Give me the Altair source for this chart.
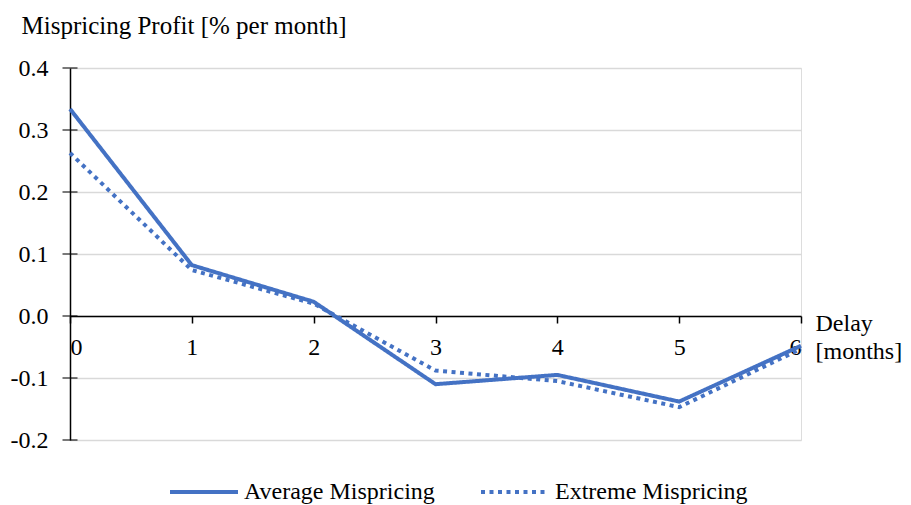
import altair as alt
import pandas as pd

delay = [0, 1, 2, 3, 4, 5, 6]
average = [0.334, 0.082, 0.023, -0.110, -0.095, -0.138, -0.048]
extreme = [0.263, 0.074, 0.020, -0.088, -0.105, -0.147, -0.053]
series_names = ["Average Mispricing", "Extreme Mispricing"]
y_ticks = [-0.2, -0.1, 0.0, 0.1, 0.2, 0.3, 0.4]

df = pd.DataFrame({
    "Delay": delay * 2,
    "Profit": average + extreme,
    "Series": [series_names[0]] * len(delay) + [series_names[1]] * len(delay),
})
ticks_df = pd.DataFrame({"v": y_ticks})

FONT = "Liberation Serif"
BLUE = "#4472C4"
FS = 24

xscale = alt.Scale(domain=[0, 6], nice=False, zero=False)
yscale = alt.Scale(domain=[-0.2, 0.4], nice=False, zero=False)

x_enc = alt.X(
    "Delay:Q", scale=xscale,
    axis=alt.Axis(
        values=delay, format="d", offset=-124, grid=False,
        domainColor="black", domainWidth=1.5,
        tickColor="black", tickSize=7, tickWidth=1.5,
        labelPadding=12, labelFont=FONT, labelFontSize=FS, labelColor="black",
        labelBaseline="top",
        title=["Delay", "[months]"], titleX=745, titleY=14, titleAlign="left",
        titleBaseline="alphabetic", titleAngle=0, titleLineHeight=28,
        titleFont=FONT, titleFontSize=FS, titleFontWeight="normal", titleColor="black",
    ),
)
y_enc = alt.Y(
    "Profit:Q", scale=yscale,
    axis=alt.Axis(
        values=y_ticks, ticks=False,
        labelExpr="replace(format(datum.value, '.1f'), '\u2212', '-')",
        grid=True, gridColor="#d9d9d9", gridWidth=1.5,
        domainColor="black", domainWidth=1.5,
        labelPadding=22, labelFont=FONT, labelFontSize=FS, labelColor="black",
        title="Mispricing Profit [% per month]", titleX=-49, titleY=-35,
        titleAlign="left", titleBaseline="alphabetic", titleAngle=0,
        titleFont=FONT, titleFontSize=25, titleFontWeight="normal", titleColor="black",
    ),
)

lines = alt.Chart(df).mark_line(color=BLUE, strokeWidth=4).encode(
    x=x_enc,
    y=y_enc,
    strokeDash=alt.StrokeDash(
        "Series:N",
        scale=alt.Scale(domain=series_names, range=[[1, 0], [4, 4.5]]),
        legend=alt.Legend(
            orient="none", legendX=98, legendY=388, direction="horizontal",
            title=None, labelFont=FONT, labelFontSize=FS, labelColor="black",
            symbolType="stroke", symbolSize=4624, symbolStrokeWidth=4,
            symbolStrokeColor=BLUE, columnPadding=38, labelOffset=4, labelLimit=0,
        ),
    ),
)

crossticks = alt.Chart(ticks_df).mark_tick(
    orient="horizontal", size=15, thickness=1.5, color="black"
).encode(
    x=alt.datum(0, scale=xscale),
    y=alt.Y("v:Q", scale=yscale),
)

chart = alt.layer(crossticks, lines).properties(
    width=731, height=372,
    autosize="none",
    padding={"left": 62, "top": 60, "right": 102, "bottom": 65},
).configure_view(stroke=None).configure(background="white")

chart.save("out.html", embed_options={"renderer": "svg", "actions": False})
